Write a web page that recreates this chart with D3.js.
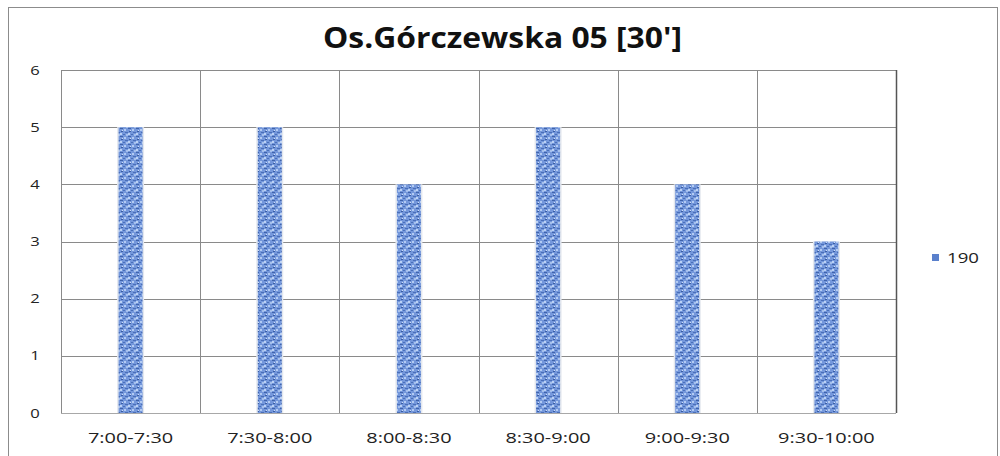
<!DOCTYPE html>
<html>
<head>
<meta charset="utf-8">
<style>
  body { margin: 0; background: #fff; }
  svg text { font-family: "Open Sans", "DejaVu Sans", sans-serif; }
</style>
</head>
<body>
<div id="chart"></div>
<script src="https://d3js.org/d3.v7.min.js"></script>
<script>
// chart data
var categories = ["7:00-7:30", "7:30-8:00", "8:00-8:30", "8:30-9:00", "9:00-9:30", "9:30-10:00"];
var values = [5, 5, 4, 5, 4, 3];
var yTicks = [0, 1, 2, 3, 4, 5, 6];
var seriesName = "190";
var title = "Os.Górczewska 05 [30']";

var width = 1000, height = 456;
var margin = {left: 61, right: 104, top: 70, bottom: 43};
var stretch = 1.33; // the original text is drawn wide

var svg = d3.select("#chart").append("svg")
    .attr("width", width)
    .attr("height", height);

// mottled fill for bars
var defs = svg.append("defs");
var pat = defs.append("pattern")
    .attr("id", "tex")
    .attr("patternUnits", "userSpaceOnUse")
    .attr("width", 8).attr("height", 8);
pat.append("rect").attr("width", 8).attr("height", 8).attr("fill", "#7497db");
var specks = [[0,0,3,1,"#3f63ab"],[4,1,2,2,"#b3cbf2"],[1,3,2,1,"#3a5ea5"],[5,4,3,1,"#4a6fb8"],
              [0,5,2,2,"#bcd2f4"],[3,6,2,1,"#4a70b9"],[6,6,2,2,"#a6c0ec"],[2,2,1,1,"#cddcf7"]];
specks.forEach(function(s) {
    pat.append("rect").attr("x", s[0]).attr("y", s[1]).attr("width", s[2]).attr("height", s[3]).attr("fill", s[4]);
});

// outer frame
svg.append("rect")
    .attr("x", 8.5).attr("y", 7.5)
    .attr("width", 989).attr("height", 460)
    .attr("fill", "none")
    .attr("stroke", "#8c8c8c");

var x = d3.scaleBand()
    .domain(categories)
    .range([margin.left, width - margin.right]);

var y = d3.scaleLinear()
    .domain([0, 6])
    .range([height - margin.bottom, margin.top]);

// horizontal gridlines
svg.append("g").selectAll("line")
    .data(yTicks)
    .enter().append("line")
    .attr("x1", margin.left).attr("x2", width - margin.right)
    .attr("y1", d => Math.round(y(d)) + 0.5).attr("y2", d => Math.round(y(d)) + 0.5)
    .attr("stroke", d => d === 0 ? "#a8a8a8" : "#8a8a8a");

// vertical category separators
var bounds = categories.map(c => x(c)).concat([width - margin.right]);
svg.append("g").selectAll("line")
    .data(bounds)
    .enter().append("line")
    .attr("x1", d => Math.round(d) + 0.5).attr("x2", d => Math.round(d) + 0.5)
    .attr("y1", y(6)).attr("y2", y(0))
    .attr("stroke", (d, i) => i === bounds.length - 1 ? "#555" : "#8a8a8a")
    .attr("stroke-width", (d, i) => i === bounds.length - 1 ? 1.5 : 1);

// bars
var barW = 24;
var bars = svg.append("g").selectAll("g")
    .data(values)
    .enter().append("g");
bars.append("rect")
    .attr("x", (d, i) => x(categories[i]) + x.bandwidth() / 2 - barW / 2 - 1.5)
    .attr("y", d => y(d))
    .attr("width", barW + 3)
    .attr("height", d => y(0) - y(d))
    .attr("fill", "#e4e8ee");
bars.append("rect")
    .attr("x", (d, i) => x(categories[i]) + x.bandwidth() / 2 - barW / 2)
    .attr("y", d => y(d))
    .attr("width", barW)
    .attr("height", d => y(0) - y(d))
    .attr("fill", "url(#tex)");

// y labels
svg.append("g").selectAll("text")
    .data(yTicks)
    .enter().append("text")
    .attr("transform", d => "translate(35," + (y(d) + 4.5) + ") scale(" + stretch + ",1)")
    .attr("text-anchor", "middle")
    .attr("font-size", 12.5)
    .attr("fill", "#222")
    .text(d => d);

// x labels
svg.append("g").selectAll("text")
    .data(categories)
    .enter().append("text")
    .attr("transform", d => "translate(" + (x(d) + x.bandwidth() / 2) + ",443) scale(" + stretch + ",1)")
    .attr("text-anchor", "middle")
    .attr("font-size", 15)
    .attr("fill", "#222")
    .text(d => d);

// title
svg.append("text")
    .attr("x", 502.5)
    .attr("y", 48)
    .attr("text-anchor", "middle")
    .attr("font-size", 29)
    .attr("font-weight", "bold")
    .attr("textLength", 359)
    .attr("lengthAdjust", "spacingAndGlyphs")
    .attr("fill", "#111")
    .text(title);

// legend
svg.append("rect")
    .attr("x", 932).attr("y", 254)
    .attr("width", 7).attr("height", 7)
    .attr("fill", "#5a80cc");
svg.append("text")
    .attr("transform", "translate(947,263) scale(" + stretch + ",1)")
    .attr("font-size", 14)
    .attr("fill", "#222")
    .text(seriesName);
</script>
</body>
</html>
